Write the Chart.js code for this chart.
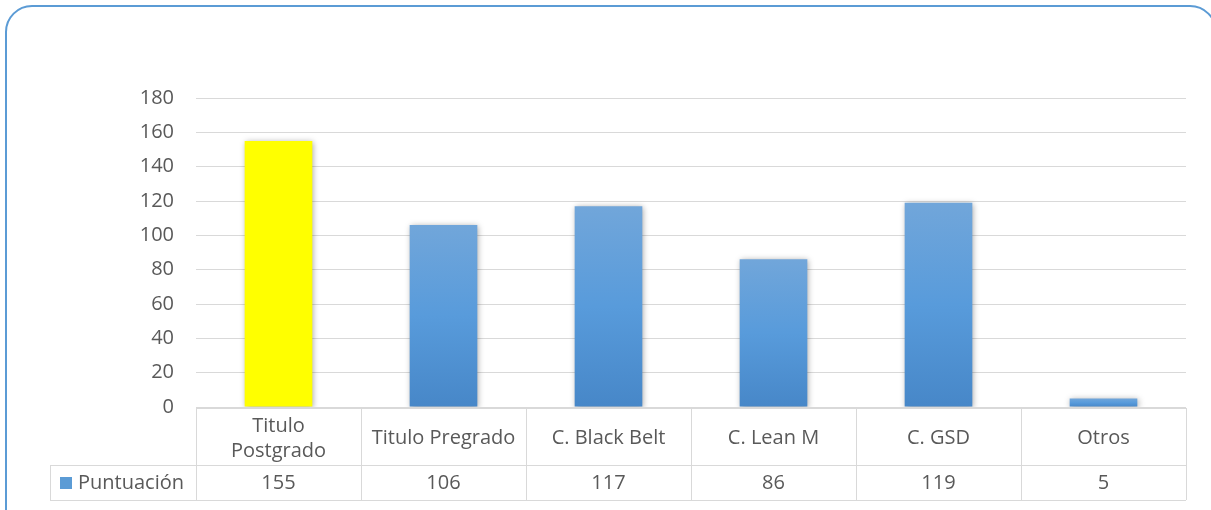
<!DOCTYPE html>
<html>
<head>
<meta charset="utf-8">
<script src="https://cdn.jsdelivr.net/npm/chart.js@4/dist/chart.umd.min.js"></script>
<style>
  html, body { margin: 0; padding: 0; background: #fff; }
  #wrap { width: 1211px; height: 510px; }
</style>
</head>
<body>
<div id="wrap"><canvas id="chart" width="1211" height="510"></canvas></div>
<script>
// data
var categorias = ["Titulo\nPostgrado", "Titulo Pregrado", "C. Black Belt", "C. Lean M", "C. GSD", "Otros"];
var puntuacion = [155, 106, 117, 86, 119, 5];
var serieNombre = "Puntuación";
var yMax = 180;
var yPaso = 20;

var textColor = "#595959";
var gridColor = "#d9d9d9";
var fontFam = "'Open Sans', sans-serif";
var fontSize = 20;

// excel-like gradient per bar, yellow for the first one
function barFill(ctx) {
    var chart = ctx.chart;
    if (ctx.dataIndex === 0) return "#ffff00";
    var ys = chart.scales.y;
    if (!ys) return "#5b9bd5";
    var top = ys.getPixelForValue(puntuacion[ctx.dataIndex]);
    var bottom = ys.getPixelForValue(0);
    if (!isFinite(top) || !isFinite(bottom) || top === bottom) return "#5b9bd5";
    var g = chart.ctx.createLinearGradient(0, top, 0, bottom);
    g.addColorStop(0, "#71a6da");
    g.addColorStop(0.5, "#589bdb");
    g.addColorStop(1, "#4787c8");
    return g;
}

// rounded frame around everything
var frame = {
    id: "frame",
    afterDraw: function(chart) {
        var c = chart.ctx;
        c.save();
        c.strokeStyle = "#5b9bd5";
        c.lineWidth = 2;
        c.beginPath();
        c.roundRect(6, 6, 1210, 530, 26);
        c.stroke();
        c.restore();
    }
};

// bar shadows
var sombra = {
    id: "sombra",
    beforeDatasetsDraw: function(chart) {
        var c = chart.ctx;
        c.save();
        c.shadowColor = "rgba(0,0,0,0.35)";
        c.shadowBlur = 6;
        c.shadowOffsetX = 1;
        c.shadowOffsetY = 1;
    },
    afterDatasetsDraw: function(chart) {
        chart.ctx.restore();
    }
};

// data table under the plot (excel style)
var tabla = {
    id: "tabla",
    afterDraw: function(chart) {
        var c = chart.ctx;
        var xs = chart.scales.x;
        var area = chart.chartArea;
        var y0 = area.bottom + 1;
        var y1 = 465;
        var y2 = 500;
        var left = 50;
        var n = categorias.length;
        var w = (area.right - area.left) / n;

        c.save();
        c.strokeStyle = gridColor;
        c.lineWidth = 1;
        c.beginPath();
        // horizontal lines
        c.moveTo(area.left, y0 + 0.5); c.lineTo(area.right, y0 + 0.5);
        c.moveTo(left, y1 + 0.5); c.lineTo(area.right, y1 + 0.5);
        c.moveTo(left, y2 + 0.5); c.lineTo(area.right, y2 + 0.5);
        // vertical lines
        c.moveTo(left + 0.5, y1); c.lineTo(left + 0.5, y2);
        for (var i = 0; i <= n; i++) {
            var x = Math.round(area.left + i * w) + 0.5;
            c.moveTo(x, y0); c.lineTo(x, y2);
        }
        c.stroke();

        c.fillStyle = textColor;
        c.font = fontSize + "px " + fontFam;
        c.textAlign = "center";
        c.textBaseline = "middle";
        for (var j = 0; j < n; j++) {
            var cx = xs.getPixelForValue(j);
            var lines = categorias[j].split("\n");
            var midY = (y0 + y1) / 2 + 2;
            var lh = 25;
            for (var k = 0; k < lines.length; k++) {
                c.fillText(lines[k], cx, midY + (k - (lines.length - 1) / 2) * lh);
            }
            c.fillText(String(puntuacion[j]), cx, (y1 + y2) / 2 + 1);
        }
        // legend key + series name
        c.fillStyle = "#5b9bd5";
        c.fillRect(60, 477, 12, 12);
        c.fillStyle = textColor;
        c.textAlign = "left";
        c.fillText(serieNombre, 78, (y1 + y2) / 2 + 1);
        c.restore();
    }
};

new Chart(document.getElementById("chart"), {
    type: "bar",
    data: {
        labels: categorias,
        datasets: [{
            label: serieNombre,
            data: puntuacion,
            backgroundColor: barFill,
            borderWidth: 0,
            barPercentage: 0.41,
            categoryPercentage: 1
        }]
    },
    options: {
        responsive: false,
        animation: false,
        layout: { padding: { left: 0, right: 25, top: 98, bottom: 103 } },
        plugins: {
            legend: { display: false },
            tooltip: { enabled: false }
        },
        scales: {
            x: {
                display: false
            },
            y: {
                min: 0,
                max: yMax,
                afterFit: function(scale) { scale.width = 196; },
                border: { display: false },
                grid: { color: gridColor, drawTicks: false },
                ticks: {
                    stepSize: yPaso,
                    color: textColor,
                    padding: 22,
                    font: { size: fontSize, family: fontFam }
                }
            }
        }
    },
    plugins: [sombra, tabla, frame]
});
</script>
</body>
</html>
